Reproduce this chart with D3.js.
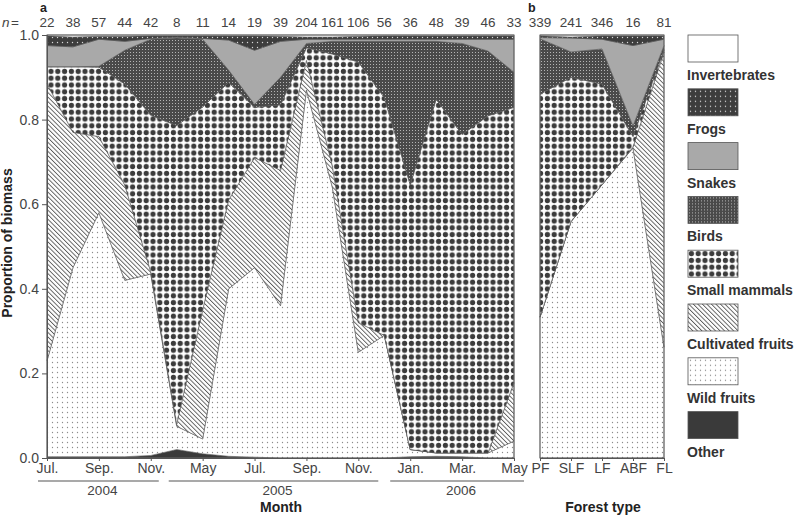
<!DOCTYPE html>
<html><head><meta charset="utf-8">
<script src="https://cdn.jsdelivr.net/npm/d3@7"></script>
<style>
body{margin:0;background:#fff}
text{font-family:"Liberation Sans",Arial,sans-serif}
</style>
</head><body>
<svg id="c" width="795" height="515"></svg>
<script>
// ---------- DATA ----------
const months = ["Jul","Aug","Sep","Oct","Nov","Apr","May","Jun","Jul","Aug","Sep","Oct","Nov","Dec","Jan","Feb","Mar","Apr","May"];
const monthYears = ["2004","2004","2004","2004","2004","2005","2005","2005","2005","2005","2005","2005","2005","2005","2006","2006","2006","2006","2006"];
const monthTickLabels = ["Jul.","","Sep.","","Nov.","","May","","Jul.","","Sep.","","Nov.","","Jan.","","Mar.","","May"];
const years = ["2004","2005","2006"];
const nMonth = [22,38,57,44,42,8,11,14,19,39,204,161,106,56,36,48,39,46,33];

const forestTypes = ["PF","SLF","LF","ABF","FL"];
const nForest = [339,241,346,16,81];

const seriesKeys = ["Other","Wild fruits","Cultivated fruits","Small mammals","Birds","Snakes","Frogs","Invertebrates"];

// panel a (proportions per month)
const otherA   = [0.003,0.003,0.003,0.003,0.006,0.020,0.010,0.004,0.002,0,0,0,0,0,0.003,0.004,0.003,0,0];
const wildA    = [0.227,0.447,0.577,0.417,0.429,0.055,0.035,0.396,0.448,0.360,0.870,0.640,0.250,0.290,0.017,0.008,0.009,0.012,0.040];
const cultA    = [0.655,0.320,0.180,0.225,0.005,0.005,0.305,0.210,0.260,0.320,0.070,0.050,0.070,0,0,0,0,0,0.138];
const mammalA  = [0.040,0.155,0.164,0.239,0.370,0.706,0.480,0.278,0.119,0.155,0.030,0.265,0.616,0.562,0.626,0.836,0.753,0.797,0.651];
const birdA    = [0,0,0.002,0.080,0.180,0.207,0.160,0.029,0.007,0.065,0.010,0.030,0.049,0.133,0.339,0.137,0.215,0.153,0.083];
const snakeA   = [0.050,0.047,0.064,0.021,0.002,0.002,0.002,0.071,0.128,0.085,0.010,0.005,0.005,0.005,0.005,0.005,0.010,0.028,0.078];
const frogA    = [0.023,0.023,0.007,0.012,0.006,0.003,0.006,0.010,0.034,0.012,0.005,0.005,0.007,0.008,0.008,0.008,0.008,0.008,0.008];
const invertA  = [0.002,0.005,0.003,0.003,0.002,0.002,0.002,0.002,0.002,0.003,0.005,0.005,0.003,0.002,0.002,0.002,0.002,0.002,0.002];

// panel b (proportions per forest type)
const otherB   = [0,0,0,0,0];
const wildB    = [0.333,0.559,0.646,0.733,0.262];
const cultB    = [0,0,0,0.002,0.698];
const mammalB  = [0.527,0.341,0.238,0.025,0.005];
const birdB    = [0.131,0.060,0.083,0.025,0.010];
const snakeB   = [0.003,0.033,0.023,0.190,0.015];
const frogB    = [0.004,0.002,0.008,0.023,0.008];
const invertB  = [0.002,0.005,0.002,0.002,0.002];

const yTicks = [0,0.2,0.4,0.6,0.8,1.0];

// ---------- BUILD ----------
const seriesA = [otherA,wildA,cultA,mammalA,birdA,snakeA,frogA,invertA];
const seriesB = [otherB,wildB,cultB,mammalB,birdB,snakeB,frogB,invertB];
const rowsA = months.map((m,i)=>{const r={idx:i}; seriesKeys.forEach((k,j)=>r[k]=seriesA[j][i]); return r;});
const rowsB = forestTypes.map((f,i)=>{const r={type:f}; seriesKeys.forEach((k,j)=>r[k]=seriesB[j][i]); return r;});
const stacker = d3.stack().keys(seriesKeys);
const stA = stacker(rowsA), stB = stacker(rowsB);

const svg = d3.select("#c");
const defs = svg.append("defs");
function pat(id,w,h,draw,tr){
  const p=defs.append("pattern").attr("id",id).attr("patternUnits","userSpaceOnUse").attr("width",w).attr("height",h);
  if(tr) p.attr("patternTransform",tr);
  draw(p);
}
pat("pWild",5,5,p=>{p.append("rect").attr("width",5).attr("height",5).attr("fill","#fff");
  p.append("circle").attr("cx",2.5).attr("cy",2.5).attr("r",0.65).attr("fill","#8c8c8c");});
pat("pCult",3.2,3.2,p=>{p.append("rect").attr("width",3.2).attr("height",3.2).attr("fill","#fff");
  p.append("rect").attr("width",0.9).attr("height",3.2).attr("fill","#5a5a5a");},"rotate(-45)");
pat("pMammal",6.8,6.8,p=>{p.append("rect").attr("width",6.8).attr("height",6.8).attr("fill","#fff");
  p.append("circle").attr("cx",3.4).attr("cy",3.4).attr("r",2.6).attr("fill","#3c3c3c");});
pat("pBird",3,3,p=>{p.append("rect").attr("width",3).attr("height",3).attr("fill","#4a4a4a");
  p.append("rect").attr("x",1).attr("y",1).attr("width",1).attr("height",1).attr("fill","#b5b5b5");});
pat("pFrog",5,5,p=>{p.append("rect").attr("width",5).attr("height",5).attr("fill","#3d3d3d");
  p.append("circle").attr("cx",2.5).attr("cy",2.5).attr("r",0.7).attr("fill","#d8d8d8");});

const fills = {"Other":"#3a3a3a","Wild fruits":"url(#pWild)","Cultivated fruits":"url(#pCult)",
  "Small mammals":"url(#pMammal)","Birds":"url(#pBird)","Snakes":"#a9a9a9","Frogs":"url(#pFrog)","Invertebrates":"#fff"};

const plotTop=35, plotBottom=458;
const y = d3.scaleLinear().domain([0,1]).range([plotBottom,plotTop]);
const xA = d3.scalePoint().domain(d3.range(months.length)).range([47,514]);
const xB = d3.scalePoint().domain(forestTypes).range([540,664]);

// panel a areas
const areaA = d3.area().x(d=>xA(d.data.idx)).y0(d=>y(d[0])).y1(d=>y(d[1]));
svg.append("g").selectAll("path").data(stA).join("path")
  .attr("d",areaA).attr("fill",d=>fills[d.key]).attr("stroke","#555").attr("stroke-width",0.6);
const areaB = d3.area().x(d=>xB(d.data.type)).y0(d=>y(d[0])).y1(d=>y(d[1]));
svg.append("g").selectAll("path").data(stB).join("path")
  .attr("d",areaB).attr("fill",d=>fills[d.key]).attr("stroke","#555").attr("stroke-width",0.6);

// frames
svg.append("rect").attr("x",xA(0)).attr("y",plotTop).attr("width",xA(months.length-1)-xA(0)).attr("height",plotBottom-plotTop)
  .attr("fill","none").attr("stroke","#666").attr("stroke-width",1);
svg.append("rect").attr("x",xB("PF")).attr("y",plotTop).attr("width",xB("FL")-xB("PF")).attr("height",plotBottom-plotTop)
  .attr("fill","none").attr("stroke","#666").attr("stroke-width",1);

// y axis
const yAx = svg.append("g").attr("transform",`translate(${xA(0)},0)`)
  .call(d3.axisLeft(y).tickValues(yTicks).tickFormat(d3.format(".1f")).tickSize(5).tickPadding(3));
yAx.select(".domain").attr("stroke","#555");
yAx.selectAll(".tick line").attr("stroke","#555");
yAx.selectAll("text").attr("font-size",14).attr("fill","#444").attr("font-family","Liberation Sans, Arial, sans-serif");

// x axis panel a
const xAx = svg.append("g").attr("transform",`translate(0,${plotBottom})`)
  .call(d3.axisBottom(xA).tickValues(d3.range(months.length).filter(i=>monthTickLabels[i]!==""))
    .tickFormat(i=>monthTickLabels[i]).tickSize(3).tickPadding(2));
xAx.select(".domain").attr("stroke","#555");
xAx.selectAll(".tick line").attr("stroke","#555");
xAx.selectAll("text").attr("font-size",14).attr("fill","#444").attr("font-family","Liberation Sans, Arial, sans-serif");

// x axis panel b
const xBx = svg.append("g").attr("transform",`translate(0,${plotBottom})`)
  .call(d3.axisBottom(xB).tickSize(3).tickPadding(2));
xBx.select(".domain").attr("stroke","#555");
xBx.selectAll(".tick line").attr("stroke","#555");
xBx.selectAll("text").attr("font-size",14).attr("fill","#444").attr("font-family","Liberation Sans, Arial, sans-serif");

// year group lines
const yearPad = {"2004":[-9,8],"2005":[-8,-6],"2006":[-20,10]};
years.forEach(yr=>{
  const idx = d3.range(months.length).filter(i=>monthYears[i]===yr);
  const x0 = xA(idx[0])+yearPad[yr][0];
  const x1 = xA(idx[idx.length-1])+yearPad[yr][1];
  svg.append("line").attr("x1",x0).attr("x2",x1).attr("y1",481).attr("y2",481).attr("stroke","#555").attr("stroke-width",1.2);
  svg.append("text").attr("x",(x0+x1)/2+4).attr("y",495).attr("text-anchor","middle")
    .attr("font-size",13.5).attr("fill","#444").text(yr);
});

// axis titles
svg.append("text").attr("x",281).attr("y",512).attr("text-anchor","middle").attr("font-size",14)
  .attr("font-weight","bold").attr("fill","#222").text("Month");
svg.append("text").attr("x",603).attr("y",512).attr("text-anchor","middle").attr("font-size",14)
  .attr("font-weight","bold").attr("fill","#222").text("Forest type");
svg.append("text").attr("transform","translate(12,243) rotate(-90)").attr("text-anchor","middle")
  .attr("font-size",14).attr("font-weight","bold").attr("fill","#222").text("Proportion of biomass");

// n labels
const nY = 26.5, nFont = 13.5;
svg.append("text").attr("x",2).attr("y",nY).attr("font-size",nFont).attr("fill","#444")
  .attr("font-style","italic").text("n");
svg.append("text").attr("x",11).attr("y",nY).attr("font-size",nFont).attr("fill","#444").text("=");
svg.append("g").selectAll("text").data(nMonth).join("text")
  .attr("x",(d,i)=>xA(i)).attr("y",nY).attr("text-anchor","middle").attr("font-size",nFont).attr("fill","#444").text(d=>d);
svg.append("g").selectAll("text").data(nForest).join("text")
  .attr("x",(d,i)=>xB(forestTypes[i])).attr("y",nY).attr("text-anchor","middle").attr("font-size",nFont).attr("fill","#444").text(d=>d);

// panel letters
svg.append("text").attr("x",40).attr("y",11.5).attr("font-size",12.5).attr("font-weight","bold")
  .attr("font-family","Liberation Serif, serif").attr("fill","#222").text("a");
svg.append("text").attr("x",528).attr("y",11.5).attr("font-size",12.5).attr("font-weight","bold")
  .attr("font-family","Liberation Serif, serif").attr("fill","#222").text("b");

// legend
const legendKeys = seriesKeys.slice().reverse();
const lg = svg.append("g").selectAll("g").data(legendKeys).join("g")
  .attr("transform",(d,i)=>`translate(688,${35+i*53.8})`);
lg.append("rect").attr("width",50).attr("height",27).attr("fill",d=>fills[d]).attr("stroke","#555").attr("stroke-width",0.8);
lg.append("text").attr("x",-1).attr("y",45).attr("font-size",14).attr("font-weight","bold").attr("fill","#333").text(d=>d);
</script>
</body></html>
